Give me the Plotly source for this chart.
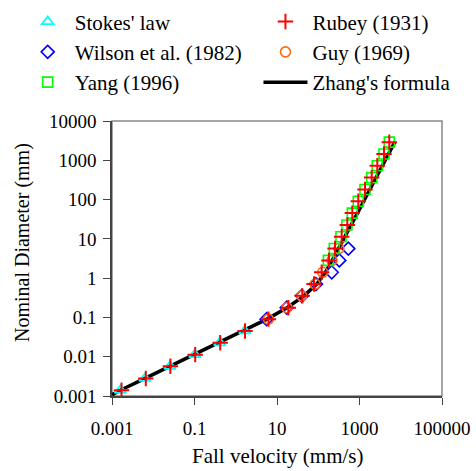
import plotly.graph_objects as go

# ---- data ----
stokes_d = [0.0014, 0.0028, 0.0057, 0.0113, 0.0226, 0.0453]
stokes_v = [0.0016, 0.0063, 0.0255, 0.102, 0.41, 1.65]

rubey_d = [0.0014, 0.0028, 0.0057, 0.0113, 0.0226, 0.0453, 0.0905, 0.177, 0.354,
           0.707, 1.41, 2.83, 5.66, 11.3, 22.6, 45.3, 90.5, 181, 362, 724, 1448, 2896]
rubey_v = [0.0017, 0.0066, 0.026, 0.104, 0.42, 1.68, 6.2, 18.8, 41,
           79, 121, 182, 255, 370, 506, 669, 935, 1360, 1977, 2700, 3930, 5275]

wilson_d = [0.0905, 0.177, 0.354, 0.707, 1.41, 2.83, 5.66]
wilson_v = [5.6, 17.2, 40, 88, 212, 324, 535]

guy_d = [0.0905, 0.177, 0.354, 0.707, 1.41, 2.83, 5.66]
guy_v = [6.2, 17.5, 40, 84, 128, 215, 315]

yang_d = [2.83, 5.66, 11.3, 22.6, 45.3, 90.5, 181, 362, 724, 1448, 2896]
yang_v = [176, 245, 355, 495, 669, 935, 1360, 1977, 2700, 3930, 5275]

zhang_d = [0.00107, 0.0014, 0.0028, 0.0057, 0.0113, 0.0226, 0.0453, 0.0905, 0.177,
           0.354, 0.707, 1.41, 2.83, 5.66, 11.3, 22.6, 45.3, 90.5, 181, 362, 724, 1448, 2896]
zhang_v = [0.001, 0.0016, 0.0063, 0.025, 0.10, 0.40, 1.55, 5.7, 17.5,
           45, 92, 148, 218, 314, 445, 631, 894, 1264, 1787, 2527, 3574, 5054, 7148]

x_ticks = [0.001, 0.1, 10, 1000, 100000]
x_ticktext = ["0.001", "0.1", "10", "1000", "100000"]
y_ticks = [0.001, 0.01, 0.1, 1, 10, 100, 1000, 10000]
y_ticktext = ["0.001", "0.01", "0.1", "1", "10", "100", "1000", "10000"]
x_title = "Fall velocity (mm/s)"
y_title = "Nominal Diameter (mm)"

FONT = "Liberation Serif, Times New Roman, serif"

fig = go.Figure()

fig.add_trace(go.Scatter(x=zhang_v, y=zhang_d, mode="lines", name="Zhang's formula",
                         line=dict(color="black", width=3.5), legend="legend2", legendrank=3))
fig.add_trace(go.Scatter(x=stokes_v, y=stokes_d, mode="markers", name="Stokes' law",
                         marker=dict(symbol="triangle-up-open", size=10, color="#00FFFF",
                                     line=dict(width=1.8, color="#00FFFF")),
                         legend="legend", legendrank=1))
fig.add_trace(go.Scatter(x=wilson_v, y=wilson_d, mode="markers", name="Wilson et al. (1982)",
                         marker=dict(symbol="diamond-open", size=10, color="#0000FF",
                                     line=dict(width=1.6, color="#0000FF")),
                         legend="legend", legendrank=2))
fig.add_trace(go.Scatter(x=guy_v, y=guy_d, mode="markers", name="Guy (1969)",
                         marker=dict(symbol="circle-open", size=10, color="#FF6A13",
                                     line=dict(width=1.6, color="#FF6A13")),
                         legend="legend2", legendrank=2))
fig.add_trace(go.Scatter(x=yang_v, y=yang_d, mode="markers", name="Yang (1996)",
                         marker=dict(symbol="square-open", size=10, color="#00FF00",
                                     line=dict(width=1.6, color="#00FF00")),
                         legend="legend", legendrank=3))
fig.add_trace(go.Scatter(x=rubey_v, y=rubey_d, mode="markers", name="Rubey (1931)",
                         marker=dict(symbol="cross-thin-open", size=11, color="#FF0000",
                                     line=dict(width=2, color="#FF0000")),
                         legend="legend2", legendrank=1))

leg_common = dict(orientation="v", xref="container", yref="container",
                  xanchor="left", yanchor="top", itemwidth=44,
                  font=dict(family=FONT, size=21), bgcolor="rgba(0,0,0,0)",
                  traceorder="normal", tracegroupgap=0)

fig.update_layout(
    width=476, height=471,
    margin=dict(l=112, r=34, t=121, b=75, autoexpand=False),
    paper_bgcolor="white", plot_bgcolor="white",
    font=dict(family=FONT, size=19, color="black"),
    showlegend=True,
    legend=dict(x=0.0435, y=0.997, **leg_common),
    legend2=dict(x=0.543, y=0.997, **leg_common),
    shapes=[dict(type="rect", xref="paper", yref="paper", x0=0, x1=1, y0=0, y1=1,
                 line=dict(color="#888888", width=1.5), layer="below")],
    annotations=[
        dict(text=x_title, xref="paper", yref="paper",
             x=(277 - 112) / 330, y=(396 - 456) / 275, xanchor="center", yanchor="middle",
             showarrow=False, font=dict(family=FONT, size=21)),
        dict(text=y_title, xref="paper", yref="paper", textangle=-90,
             x=(22 - 112) / 330, y=(396 - 243) / 275, xanchor="center", yanchor="middle",
             showarrow=False, font=dict(family=FONT, size=20)),
    ],
)

fig.update_xaxes(type="log", range=[-3, 5], tickvals=x_ticks, ticktext=x_ticktext,
                 showgrid=False, zeroline=False, showline=True, linecolor="#444444",
                 linewidth=1.5, ticks="outside", ticklen=7, tickcolor="#444444",
                 tickfont=dict(size=19), ticklabelstandoff=7)
fig.update_yaxes(type="log", range=[-3, 4], tickvals=y_ticks, ticktext=y_ticktext,
                 showgrid=False, zeroline=False, showline=True, linecolor="#444444",
                 linewidth=1.5, ticks="outside", ticklen=7, tickcolor="#444444",
                 tickfont=dict(size=19), ticklabelstandoff=3)

fig.write_html("out.html")
